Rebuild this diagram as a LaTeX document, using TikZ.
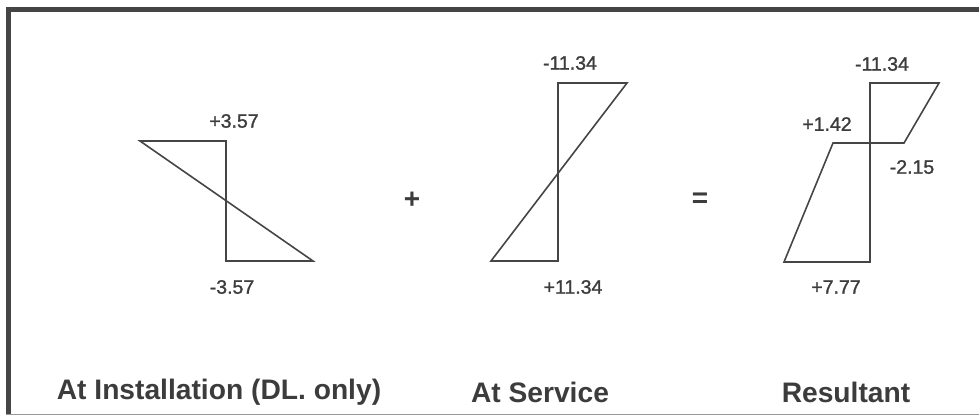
\documentclass[tikz,border=0pt]{standalone}
\usepackage{fontspec}
\setmainfont{Liberation Sans}
\newfontfamily\numfont[FakeBold=1.3]{Liberation Sans}
\definecolor{ink}{HTML}{454545}
\definecolor{txt}{HTML}{3C3C3C}
\begin{document}
\begin{tikzpicture}[x=1pt,y=-1pt,
  diag/.style={draw=ink,line width=1.6pt,line join=miter},
  num/.style={text=txt,font=\numfont\fontsize{19.5}{20}\selectfont,inner sep=0pt},
  captext/.style={text=txt,font=\fontsize{28.2}{29}\selectfont\bfseries,inner sep=0pt},
  sign/.style={text=txt,font=\fontsize{28}{28}\selectfont\bfseries,inner sep=0pt}]
\useasboundingbox (0,0) rectangle (979,417);
% frame
\draw[ink,line width=5pt] (8,414) -- (8,10) -- (979,10);
\draw[ink!55,line width=1pt] (6,414) -- (979,414);
% installation
\coordinate (a1) at (140,141);
\coordinate (a2) at (226,141);
\coordinate (a3) at (226,261);
\coordinate (a4) at (313,261);
\draw[diag] (a1) -- (a2) -- (a3) -- (a4) -- cycle;
% service
\coordinate (b1) at (558,83);
\coordinate (b2) at (627,83);
\coordinate (b3) at (491,261);
\coordinate (b4) at (558,261);
\draw[diag] (b1) -- (b2) -- (b3) -- (b4) -- cycle;
% resultant
\coordinate (c1) at (870,83);
\coordinate (c2) at (939,83);
\coordinate (c3) at (904,143);
\coordinate (c4) at (833,143);
\coordinate (c5) at (784,262);
\coordinate (c6) at (870,262);
\draw[diag] (c6) -- (c1) -- (c2) -- (c3) -- (c4) -- (c5) -- cycle;
% labels
\node[num] (l1) at (234,121) {+3.57};
\node[num] (l2) at (232,287) {-3.57};
\node[num] (l3) at (570,63) {-11.34};
\node[num] (l4) at (573,287) {+11.34};
\node[num] (l5) at (882,64) {-11.34};
\node[num] (l6) at (827,124) {+1.42};
\node[num] (l7) at (912,167) {-2.15};
\node[num] (l8) at (836,287) {+7.77};
\node[sign] (plus) at (412,200) {+};
\node[sign] (eq) at (700,200) {=};
\node[captext] (t1) at (219,392) {At Installation (DL. only)};
\node[captext] (t2) at (540,392) {At Service};
\node[captext] (t3) at (846,392) {Resultant};
\end{tikzpicture}
\end{document}
